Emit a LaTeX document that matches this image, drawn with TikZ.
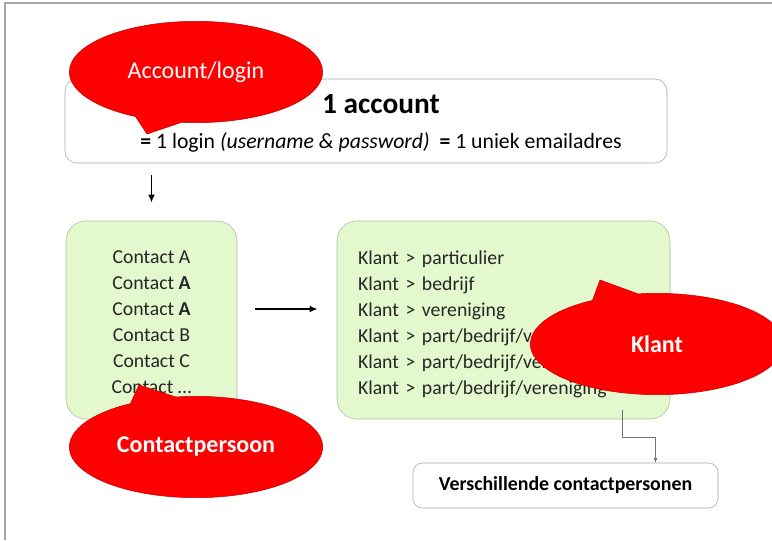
\documentclass[tikz,border=0pt]{standalone}
\usepackage{fontspec}
\setmainfont{Carlito}
\usepackage{tikz}
\usetikzlibrary{arrows.meta,positioning,shapes.geometric,shapes.callouts,calc}
\definecolor{klgreen}{HTML}{E3F8CD}
\definecolor{klgreenline}{HTML}{AABD9B}
\definecolor{klred}{HTML}{FF0000}
\definecolor{klgrey}{HTML}{A6A6A6}

\begin{document}
\begin{tikzpicture}[x=0.75pt,y=-0.75pt,font=\fontsize{14.8}{19.5}\selectfont,
 greenbox/.style={draw=klgreenline,fill=klgreen,rounded corners=15pt,%
   minimum height=148.5pt,inner sep=0pt,text=black!85},
 whitebox/.style={draw=klgrey,fill=white,rounded corners=7pt,inner sep=0pt},
 bubble/.style={ellipse callout,draw=klred!75!black,fill=klred,text=white,%
   callout pointer arc=22,minimum width=190pt,minimum height=76pt,%
   font=\fontsize{18}{21}\selectfont},
 arr/.style={-{Latex[length=6pt,width=5pt]},line width=1.4pt},
 link/.style={-{Latex[length=3.5pt,width=3pt]},draw=black!55,line width=0.5pt}]
\useasboundingbox (0,0) rectangle (772,540);
\draw[klgrey,line width=1.2pt] (772,3) -- (5,3) -- (5,540);
% account
\node[whitebox,minimum width=451.5pt,minimum height=63pt,rounded corners=9pt] (acct) at (366,121) {};
\node[align=center] (accttxt) at (381,123.5) {{\fontsize{22}{26}\selectfont\textbf{1 account}}\\[7.25pt]%
  {\fontsize{16.3}{19.5}\selectfont\textbf{=} 1 login \textit{(username \& password)}\ \ \textbf{=} 1 uniek emailadres}};
\node[bubble,callout absolute pointer={(147,134)}] (loginbub) at (196,72) {Account/login};
% contactpersonen en klanten
\node[greenbox,minimum width=128.25pt,align=center] (contacts) at (151.5,320) {\rule{0pt}{13.5pt}Contact A\\%
  Contact \textbf{A}\\Contact \textbf{A}\\Contact B\\Contact C\\Contact …};
\node[greenbox,text width=218.25pt,inner xsep=15.75pt,align=left] (klanten) at (503.5,320) {\rule{0pt}{16.5pt}Klant > particulier\\%
  Klant > bedrijf\\Klant > vereniging\\Klant > part/bedrijf/vereniging\\%
  Klant > part/bedrijf/vereniging\\Klant > part/bedrijf/vereniging};
\node[whitebox,minimum width=228.75pt,minimum height=33.75pt,font=\fontsize{14.9}{18}\bfseries] (verschil) at (565.5,485.5) {Verschillende contactpersonen};
\node[bubble,callout absolute pointer={(139,385)},font=\fontsize{18}{21}\bfseries] (contactbub) at (196,447) {Contactpersoon};
\node[bubble,callout absolute pointer={(600,280)},font=\fontsize{18}{21}\bfseries] (klantbub) at (657,344) {Klant};
\coordinate (kout) at (622,410);
\draw[arr,shorten <=9pt,shorten >=13.5pt] (contacts.north |- acct.south) -- (contacts.north);%
\draw[arr,shorten <=13.5pt,shorten >=14.25pt] ([yshift=8.25pt]contacts.east) -- ([yshift=8.25pt]klanten.west);%
\draw[link] (kout) -- ++(0,27) -| ([xshift=67.5pt]verschil.north);
\end{tikzpicture}
\end{document}
